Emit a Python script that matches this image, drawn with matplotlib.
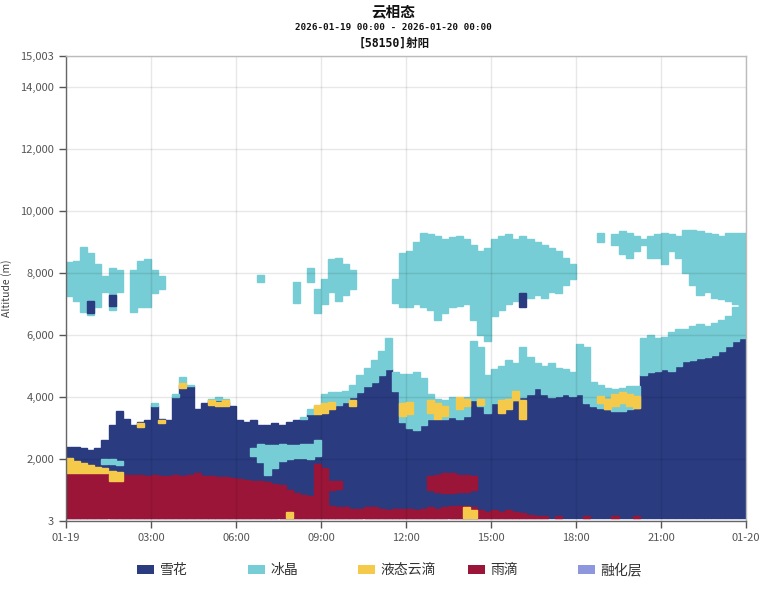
import numpy as np
import matplotlib
matplotlib.use("Agg")
import matplotlib.pyplot as plt
from matplotlib.patches import Patch
from matplotlib.ticker import FuncFormatter

plt.rcParams['font.family'] = ['Noto Sans CJK SC', 'DejaVu Sans']

# ---------------- data (15-minute bins, altitudes in metres) ----------------
bin_hours = 0.25
ground = 100

rain_top = [1550,1550,1550,1550,1550,1550,1300,1300,1500,1480,1480,1450,
            1480,1460,1450,1480,1460,1500,1550,1450,1440,1430,1420,1400,
            1350,1320,1300,1280,1250,1200,1150,1000,900,850,800,1850,
            1700,500,450,450,400,400,450,450,400,350,400,400,
            400,350,400,450,400,450,500,500,500,450,350,300,
            350,300,350,300,250,200,150,150,0,150,0,0,
            0,150,0,0,0,150,0,0,150,0,0,0,
            0,0,0,0,0,0,0,0,0,0,0,0]

liq_low_top = [2030,1950,1880,1800,1740,1700,1620,1580] + [0] * 88

snow_top = [2400,2380,2350,2300,2350,2600,3100,3550,3300,3100,3200,3250,
            3700,3300,3250,4000,4400,4350,3600,3800,3900,3900,3850,3700,
            3250,3200,3250,3100,3100,3150,3100,3200,3250,3300,3450,3550,
            3650,3700,3750,3850,4000,4150,4350,4500,4700,4900,4200,3200,
            3000,2950,3100,3300,3400,3300,3350,3300,3400,3900,3700,3500,
            3800,3900,3850,3900,4000,4100,4300,4100,4000,4050,4100,4050,
            4100,3800,3700,3650,3600,3550,3550,3600,3650,4700,4800,4850,
            4900,4850,5000,5150,5200,5250,5300,5350,5500,5650,5800,5900]

ice_top = [0,0,0,0,0,0,0,0,0,0,0,0,
           3800,0,0,4100,4650,4400,0,0,3950,4000,3950,0,
           0,0,0,0,0,0,0,0,0,3350,3600,3700,
           4100,4150,4150,4200,4400,4700,4950,5200,5500,5900,4800,4750,
           4750,4800,4600,4100,3950,3900,4000,3900,4000,5800,5600,4700,
           4900,5000,5200,5100,5600,5300,5100,5000,5100,4950,4900,4800,
           5700,5600,4500,4400,4300,4250,4300,4350,4350,5900,6000,5900,
           5950,6100,6200,6200,6300,6350,6300,6400,6500,6600,6900,7000]

upper_ice_bot = [7250,7100,6750,6650,6900,7400,6800,7400,0,6750,6900,6900,
                 7350,7500,0,0,0,0,0,0,0,0,0,0,
                 0,0,0,7700,0,0,0,0,7050,0,7700,6700,
                 7000,7400,7100,7300,7500,0,0,0,0,0,7050,6900,
                 6900,7000,6900,6800,6500,6700,6900,6950,7000,6500,6000,5800,
                 6600,6800,7000,7100,7300,7200,7300,7200,7400,7350,7600,7800,
                 0,0,0,9000,0,8900,8600,8500,8700,8900,8500,8500,
                 8300,8700,8500,8000,7600,7300,7400,7200,7150,7100,7000,6900]

upper_ice_top = [8350,8400,8850,8650,8300,7900,8150,8100,0,8100,8400,8450,
                 8100,7900,0,0,0,0,0,0,0,0,0,0,
                 0,0,0,7950,0,0,0,0,7700,0,8150,7500,
                 7800,8450,8500,8300,8100,0,0,0,0,0,7800,8650,
                 8700,9000,9300,9250,9200,9100,9150,9200,9100,8900,8700,8800,
                 9100,9200,9250,9100,9200,9100,9000,8900,8800,8700,8500,8300,
                 0,0,0,9300,0,9250,9350,9300,9200,9100,9200,9250,
                 9300,9250,9200,9400,9400,9350,9300,9250,9200,9300,9300,9300]

upper_snow_bot = [0,0,0,6700,0,0,6950,0] + [0] * 56 + [6900] + [0] * 31
upper_snow_top = [0,0,0,7100,0,0,7300,0] + [0] * 56 + [7350] + [0] * 31

emb_ice_bot = ([0] * 5 + [1850,1850,1800] + [0] * 18 +
               [2100,1900,1500,1700,1950,2000,2050,2050,2000,2100] + [0] * 60)
emb_ice_top = ([0] * 5 + [2000,2000,1950] + [0] * 18 +
               [2350,2500,2450,2450,2500,2450,2450,2500,2500,2600] + [0] * 60)

rain_hi_bot = [0] * 96
rain_hi_top = [0] * 96
for _i, _b, _t in [(37,1000,1300),(38,1050,1300),(51,1000,1450),(52,950,1500),
                   (53,900,1550),(54,900,1550),(55,950,1500),(56,950,1500),
                   (57,1000,1450)]:
    rain_hi_bot[_i] = _b
    rain_hi_top[_i] = _t

liq_hi_bot = [0] * 96
liq_hi_top = [0] * 96
for _i, _b, _t in [(10,3050,3150),(13,3150,3250),(16,4300,4450),(20,3750,3900),
                   (21,3700,3850),(22,3700,3900),(35,3450,3750),(36,3500,3800),
                   (37,3600,3850),(40,3700,3900),(47,3400,3800),(48,3450,3850),
                   (51,3500,3900),(52,3300,3800),(53,3400,3700),(55,3600,4000),
                   (56,3700,3950),(58,3750,3950),(61,3500,3900),(62,3600,3950),
                   (63,3900,4200),(64,3300,3900),(75,3800,4050),(76,3600,3950),
                   (77,3700,4100),(78,3800,4150),(79,3700,4100),(80,3650,4050)]:
    liq_hi_bot[_i] = _b
    liq_hi_top[_i] = _t

liq_ground_top = [0] * 96
liq_ground_top[31] = 300
liq_ground_top[56] = 450
liq_ground_top[57] = 350

categories = ['雪花', '冰晶', '液态云滴', '雨滴', '融化层']
colors = ['#2a3b80', '#76cdd5', '#f5ca4a', '#9a1538', '#8e97de']

x_tick_pos = [0, 3, 6, 9, 12, 15, 18, 21, 24]
x_tick_labels = ['01-19', '03:00', '06:00', '09:00', '12:00', '15:00', '18:00', '21:00', '01-20']
y_ticks = [3, 2000, 4000, 6000, 8000, 10000, 12000, 14000, 15003]

# ---------------- plot ----------------
fig = plt.figure(figsize=(7.62, 5.91), dpi=100)
ax = fig.add_axes([66/762, 70/591, 680/762, 465/591])

hours = np.arange(len(snow_top)) * bin_hours
C_SNOW, C_ICE, C_LIQ, C_RAIN, C_MELT = colors


def layer(bottom, top, color, z):
    b = np.asarray(bottom, dtype=float)
    t = np.asarray(top, dtype=float)
    h = np.where(t > b, t - b, 0.0)
    keep = h > 0
    ax.bar(hours[keep], h[keep], bottom=b[keep], width=bin_hours, align='edge',
           color=color, edgecolor=color, linewidth=1.0, zorder=z)


g = np.full(len(hours), ground, dtype=float)
layer(g, snow_top, C_SNOW, 1)
layer(g, rain_top, C_RAIN, 2)
layer(rain_top, liq_low_top, C_LIQ, 3)
layer(snow_top, ice_top, C_ICE, 2)
layer(emb_ice_bot, emb_ice_top, C_ICE, 3)
layer(rain_hi_bot, rain_hi_top, C_RAIN, 3)
layer(upper_ice_bot, upper_ice_top, C_ICE, 2)
layer(upper_snow_bot, upper_snow_top, C_SNOW, 3)
layer(liq_hi_bot, liq_hi_top, C_LIQ, 4)
layer(g, liq_ground_top, C_LIQ, 4)

ax.set_xlim(0, 24)
ax.set_ylim(3, 15003)
ax.set_xticks(x_tick_pos)
ax.set_xticklabels(x_tick_labels)
ax.set_yticks(y_ticks)
ax.yaxis.set_major_formatter(FuncFormatter(lambda v, p: f"{int(round(v)):,}"))

ax.grid(True, color='black', alpha=0.09, linewidth=1.0, zorder=10)
ax.set_axisbelow(False)
ax.tick_params(axis='both', labelsize=8, colors='#555555', length=5, width=1,
               direction='out')
for s in ['left', 'bottom']:
    ax.spines[s].set_color('#666666')
    ax.spines[s].set_linewidth(1.0)
for s in ['top', 'right']:
    ax.spines[s].set_color('#bbbbbb')
    ax.spines[s].set_linewidth(1.0)
for sp in ax.spines.values():
    sp.set_zorder(11)

ax.set_ylabel('Altitude (m)', fontsize=7.5, color='#444444')
ax.yaxis.set_label_coords(-0.079, 0.5)

mono = ['DejaVu Sans Mono', 'Noto Sans CJK SC']
fig.text(393.5/762, 1 - 11.5/591, '云相态', ha='center', va='center',
         fontsize=10.5, fontweight='bold', color='#111111')
fig.text(393.5/762, 1 - 27/591, '2026-01-19 00:00 - 2026-01-20 00:00', ha='center',
         va='center', fontsize=6.7, fontweight='bold', color='#111111', family=mono)
fig.text(394/762, 1 - 43/591, '[58150]射阳', ha='center', va='center',
         fontsize=8.3, fontweight='bold', color='#111111', family=mono)

legend_x = [137, 248, 358, 468, 578]
for xpos, lab, col in zip(legend_x, categories, colors):
    fig.legend(handles=[Patch(facecolor=col, edgecolor='none')], labels=[lab],
               loc='center left', bbox_to_anchor=(xpos/762, 1 - 570/591),
               frameon=False, fontsize=10, handlelength=1.25, handleheight=0.62,
               handletextpad=0.38, borderpad=0, borderaxespad=0, labelcolor='#333333')

fig.savefig('out.png', dpi=100)
